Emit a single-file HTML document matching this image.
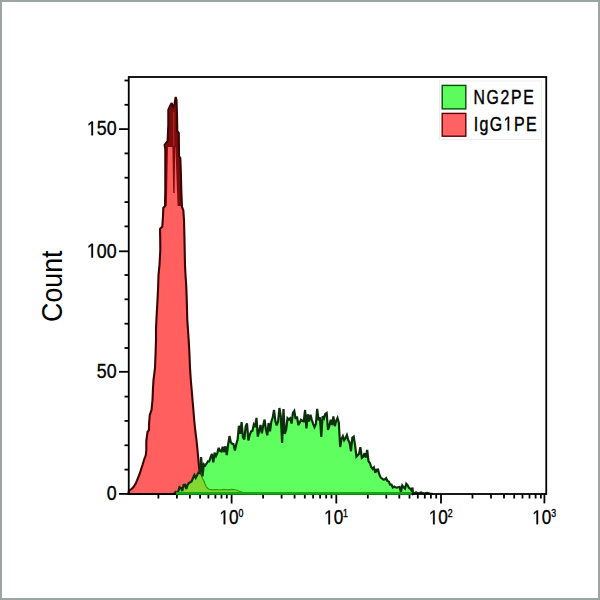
<!DOCTYPE html>
<html><head><meta charset="utf-8"><style>
html,body{margin:0;padding:0;background:#fff;}
.frame{position:absolute;left:0;top:0;width:600px;height:600px;box-sizing:border-box;border:2px solid #9ba6a2;background:#fff;}
svg{position:absolute;left:0;top:0;}
text{font-family:"Liberation Sans",sans-serif;fill:#000;stroke:#000;stroke-width:0.35;}
</style></head><body>
<div class="frame"></div>
<svg width="600" height="600" viewBox="0 0 600 600">
<defs>
<clipPath id="gclip"><polygon points="174.0,494.0 175.5,492.0 176.8,492.4 178.2,491.6 179.5,487.1 180.9,487.9 182.2,490.9 183.6,484.9 184.9,484.7 186.3,488.8 187.6,484.8 189.0,482.8 190.3,482.2 191.7,481.3 193.0,478.0 194.4,475.1 195.7,477.8 197.1,475.2 198.4,472.6 199.8,473.2 201.1,457.0 202.5,476.3 203.8,464.3 205.2,465.6 206.5,463.7 207.9,461.3 209.2,461.4 210.6,457.3 211.9,454.0 213.3,462.3 214.6,452.7 216.0,456.0 217.3,453.1 218.7,447.8 220.0,451.0 221.4,451.6 222.7,446.9 224.1,452.1 225.4,446.3 226.8,455.0 228.1,444.5 229.5,436.1 230.8,442.3 232.2,443.7 233.5,444.1 234.9,450.5 236.2,444.5 237.6,439.5 238.9,425.8 240.3,433.8 241.6,422.0 243.0,437.4 244.3,439.5 245.7,426.4 247.0,423.4 248.4,440.4 249.7,435.0 251.1,431.3 252.4,430.9 253.8,424.6 255.1,427.0 256.5,417.8 257.8,436.6 259.2,430.8 260.5,425.0 261.9,433.2 263.2,425.4 264.6,419.6 265.9,429.6 267.3,435.3 268.6,423.0 270.0,431.3 271.3,421.7 272.7,417.6 274.0,409.9 275.4,421.2 276.7,425.4 278.1,421.5 279.4,408.0 280.8,416.1 282.1,443.0 283.5,409.0 284.8,433.9 286.2,429.6 287.5,418.2 288.9,419.6 290.2,418.3 291.6,423.5 292.9,413.0 294.3,410.9 295.6,419.0 297.0,416.5 298.3,425.1 299.7,422.6 301.0,419.8 302.4,421.1 303.7,421.4 305.1,410.0 306.4,428.3 307.8,414.3 309.1,421.6 310.5,414.7 311.8,419.8 313.2,424.1 314.5,427.2 315.9,423.8 317.2,408.9 318.6,420.3 319.9,417.3 321.3,437.0 322.6,416.2 324.0,418.4 325.3,414.0 326.7,413.0 328.0,429.8 329.4,426.0 330.7,419.8 332.1,425.0 333.4,416.5 334.8,426.2 336.1,421.1 337.5,418.0 338.8,422.8 340.2,447.0 341.5,439.1 342.9,436.2 344.2,440.2 345.6,438.0 346.9,435.1 348.3,440.3 349.6,442.7 351.0,451.2 352.3,437.9 353.7,436.7 355.0,444.6 356.4,456.6 357.7,455.2 359.1,453.8 360.4,447.1 361.8,457.9 363.1,456.8 364.5,453.2 365.8,457.5 367.2,450.0 368.5,461.2 369.9,463.0 371.2,467.0 372.6,468.9 373.9,467.3 375.3,472.7 376.6,469.7 378.0,469.5 379.3,474.5 380.7,477.5 382.0,478.5 383.4,479.7 384.7,479.5 386.1,478.2 387.4,481.0 388.8,481.5 390.1,484.7 391.5,484.6 392.8,487.6 394.2,486.5 395.5,487.2 396.9,487.6 398.2,487.2 399.6,486.9 400.9,492.0 402.3,485.4 403.6,487.3 405.0,488.6 406.3,483.7 407.7,485.3 409.0,487.9 410.4,488.8 411.7,490.6 412.5,487.5 413.0,494.0"/></clipPath>
<clipPath id="rclip"><polygon points="128.5,494.0 128.8,491.0 130.0,490.0 131.5,489.0 133.5,487.0 136.0,483.0 138.0,478.0 140.0,473.0 141.5,468.0 142.5,465.0 144.0,460.0 145.8,455.0 146.3,450.0 146.3,441.0 147.5,432.0 149.0,430.0 149.0,424.0 149.8,415.0 151.5,410.0 152.5,400.0 153.0,388.0 153.5,380.0 155.0,368.0 155.5,355.0 156.0,340.0 156.0,328.0 156.5,318.0 157.5,300.0 158.0,290.0 158.5,275.0 159.5,265.0 160.3,250.0 160.2,238.0 160.0,229.0 162.3,226.5 163.0,216.0 163.3,208.0 165.0,206.0 165.3,190.0 165.3,170.0 165.3,150.0 165.0,147.0 164.6,145.0 167.6,141.0 168.3,125.0 168.3,110.0 170.0,106.0 171.7,103.0 173.0,108.0 174.5,104.0 175.7,97.0 176.5,100.0 177.0,115.0 177.3,131.0 178.8,133.0 179.0,156.0 180.3,158.0 180.8,170.0 181.3,190.0 181.7,200.0 182.0,207.0 183.3,210.0 184.0,220.0 184.5,240.0 185.0,265.0 185.5,275.0 186.2,285.0 186.7,298.0 187.3,320.0 188.7,340.0 189.5,355.0 190.0,368.0 190.8,380.0 191.7,390.0 192.5,400.0 193.4,410.0 194.2,420.0 195.2,430.0 196.5,440.0 197.5,450.0 198.4,460.0 199.3,470.0 200.5,474.0 201.5,476.0 202.7,478.7 204.0,481.0 205.0,484.0 206.2,486.5 207.3,488.0 209.0,489.3 212.0,489.8 216.0,489.5 220.0,490.0 224.0,489.3 228.0,489.8 232.0,489.3 236.0,490.0 240.0,491.5 244.0,493.0 246.0,494.0"/></clipPath>
</defs>
<polygon points="128.5,494.0 128.8,491.0 130.0,490.0 131.5,489.0 133.5,487.0 136.0,483.0 138.0,478.0 140.0,473.0 141.5,468.0 142.5,465.0 144.0,460.0 145.8,455.0 146.3,450.0 146.3,441.0 147.5,432.0 149.0,430.0 149.0,424.0 149.8,415.0 151.5,410.0 152.5,400.0 153.0,388.0 153.5,380.0 155.0,368.0 155.5,355.0 156.0,340.0 156.0,328.0 156.5,318.0 157.5,300.0 158.0,290.0 158.5,275.0 159.5,265.0 160.3,250.0 160.2,238.0 160.0,229.0 162.3,226.5 163.0,216.0 163.3,208.0 165.0,206.0 165.3,190.0 165.3,170.0 165.3,150.0 165.0,147.0 164.6,145.0 167.6,141.0 168.3,125.0 168.3,110.0 170.0,106.0 171.7,103.0 173.0,108.0 174.5,104.0 175.7,97.0 176.5,100.0 177.0,115.0 177.3,131.0 178.8,133.0 179.0,156.0 180.3,158.0 180.8,170.0 181.3,190.0 181.7,200.0 182.0,207.0 183.3,210.0 184.0,220.0 184.5,240.0 185.0,265.0 185.5,275.0 186.2,285.0 186.7,298.0 187.3,320.0 188.7,340.0 189.5,355.0 190.0,368.0 190.8,380.0 191.7,390.0 192.5,400.0 193.4,410.0 194.2,420.0 195.2,430.0 196.5,440.0 197.5,450.0 198.4,460.0 199.3,470.0 200.5,474.0 201.5,476.0 202.7,478.7 204.0,481.0 205.0,484.0 206.2,486.5 207.3,488.0 209.0,489.3 212.0,489.8 216.0,489.5 220.0,490.0 224.0,489.3 228.0,489.8 232.0,489.3 236.0,490.0 240.0,491.5 244.0,493.0 246.0,494.0" fill="#ff5f5f"/>
<g clip-path="url(#rclip)" fill="#7c0c0c">
<polygon points="166,147 168.3,112 172.2,102 173.5,108 176,96 178,104 178.5,130 179.5,147"/>
<rect x="173.2" y="112" width="1.1" height="34" fill="#b82a2a"/>
<polygon points="172.4,146 175.2,146 174.6,193 173.2,193"/>
<polygon points="175.4,147 181,147 182.2,206 177.6,206"/>
<polygon points="164.6,146 168,146 166.8,206 163.6,206"/>
</g>
<polygon points="128.5,494.0 128.8,491.0 130.0,490.0 131.5,489.0 133.5,487.0 136.0,483.0 138.0,478.0 140.0,473.0 141.5,468.0 142.5,465.0 144.0,460.0 145.8,455.0 146.3,450.0 146.3,441.0 147.5,432.0 149.0,430.0 149.0,424.0 149.8,415.0 151.5,410.0 152.5,400.0 153.0,388.0 153.5,380.0 155.0,368.0 155.5,355.0 156.0,340.0 156.0,328.0 156.5,318.0 157.5,300.0 158.0,290.0 158.5,275.0 159.5,265.0 160.3,250.0 160.2,238.0 160.0,229.0 162.3,226.5 163.0,216.0 163.3,208.0 165.0,206.0 165.3,190.0 165.3,170.0 165.3,150.0 165.0,147.0 164.6,145.0 167.6,141.0 168.3,125.0 168.3,110.0 170.0,106.0 171.7,103.0 173.0,108.0 174.5,104.0 175.7,97.0 176.5,100.0 177.0,115.0 177.3,131.0 178.8,133.0 179.0,156.0 180.3,158.0 180.8,170.0 181.3,190.0 181.7,200.0 182.0,207.0 183.3,210.0 184.0,220.0 184.5,240.0 185.0,265.0 185.5,275.0 186.2,285.0 186.7,298.0 187.3,320.0 188.7,340.0 189.5,355.0 190.0,368.0 190.8,380.0 191.7,390.0 192.5,400.0 193.4,410.0 194.2,420.0 195.2,430.0 196.5,440.0 197.5,450.0 198.4,460.0 199.3,470.0 200.5,474.0 201.5,476.0 202.7,478.7 204.0,481.0 205.0,484.0 206.2,486.5 207.3,488.0 209.0,489.3 212.0,489.8 216.0,489.5 220.0,490.0 224.0,489.3 228.0,489.8 232.0,489.3 236.0,490.0 240.0,491.5 244.0,493.0 246.0,494.0" fill="none" stroke="#3c0505" stroke-width="2.1" stroke-linejoin="miter" stroke-miterlimit="2.2"/>
<polygon points="174.0,494.0 175.5,492.0 176.8,492.4 178.2,491.6 179.5,487.1 180.9,487.9 182.2,490.9 183.6,484.9 184.9,484.7 186.3,488.8 187.6,484.8 189.0,482.8 190.3,482.2 191.7,481.3 193.0,478.0 194.4,475.1 195.7,477.8 197.1,475.2 198.4,472.6 199.8,473.2 201.1,457.0 202.5,476.3 203.8,464.3 205.2,465.6 206.5,463.7 207.9,461.3 209.2,461.4 210.6,457.3 211.9,454.0 213.3,462.3 214.6,452.7 216.0,456.0 217.3,453.1 218.7,447.8 220.0,451.0 221.4,451.6 222.7,446.9 224.1,452.1 225.4,446.3 226.8,455.0 228.1,444.5 229.5,436.1 230.8,442.3 232.2,443.7 233.5,444.1 234.9,450.5 236.2,444.5 237.6,439.5 238.9,425.8 240.3,433.8 241.6,422.0 243.0,437.4 244.3,439.5 245.7,426.4 247.0,423.4 248.4,440.4 249.7,435.0 251.1,431.3 252.4,430.9 253.8,424.6 255.1,427.0 256.5,417.8 257.8,436.6 259.2,430.8 260.5,425.0 261.9,433.2 263.2,425.4 264.6,419.6 265.9,429.6 267.3,435.3 268.6,423.0 270.0,431.3 271.3,421.7 272.7,417.6 274.0,409.9 275.4,421.2 276.7,425.4 278.1,421.5 279.4,408.0 280.8,416.1 282.1,443.0 283.5,409.0 284.8,433.9 286.2,429.6 287.5,418.2 288.9,419.6 290.2,418.3 291.6,423.5 292.9,413.0 294.3,410.9 295.6,419.0 297.0,416.5 298.3,425.1 299.7,422.6 301.0,419.8 302.4,421.1 303.7,421.4 305.1,410.0 306.4,428.3 307.8,414.3 309.1,421.6 310.5,414.7 311.8,419.8 313.2,424.1 314.5,427.2 315.9,423.8 317.2,408.9 318.6,420.3 319.9,417.3 321.3,437.0 322.6,416.2 324.0,418.4 325.3,414.0 326.7,413.0 328.0,429.8 329.4,426.0 330.7,419.8 332.1,425.0 333.4,416.5 334.8,426.2 336.1,421.1 337.5,418.0 338.8,422.8 340.2,447.0 341.5,439.1 342.9,436.2 344.2,440.2 345.6,438.0 346.9,435.1 348.3,440.3 349.6,442.7 351.0,451.2 352.3,437.9 353.7,436.7 355.0,444.6 356.4,456.6 357.7,455.2 359.1,453.8 360.4,447.1 361.8,457.9 363.1,456.8 364.5,453.2 365.8,457.5 367.2,450.0 368.5,461.2 369.9,463.0 371.2,467.0 372.6,468.9 373.9,467.3 375.3,472.7 376.6,469.7 378.0,469.5 379.3,474.5 380.7,477.5 382.0,478.5 383.4,479.7 384.7,479.5 386.1,478.2 387.4,481.0 388.8,481.5 390.1,484.7 391.5,484.6 392.8,487.6 394.2,486.5 395.5,487.2 396.9,487.6 398.2,487.2 399.6,486.9 400.9,492.0 402.3,485.4 403.6,487.3 405.0,488.6 406.3,483.7 407.7,485.3 409.0,487.9 410.4,488.8 411.7,490.6 412.5,487.5 413.0,494.0" fill="#60ff60"/>
<polygon points="128.5,494.0 128.8,491.0 130.0,490.0 131.5,489.0 133.5,487.0 136.0,483.0 138.0,478.0 140.0,473.0 141.5,468.0 142.5,465.0 144.0,460.0 145.8,455.0 146.3,450.0 146.3,441.0 147.5,432.0 149.0,430.0 149.0,424.0 149.8,415.0 151.5,410.0 152.5,400.0 153.0,388.0 153.5,380.0 155.0,368.0 155.5,355.0 156.0,340.0 156.0,328.0 156.5,318.0 157.5,300.0 158.0,290.0 158.5,275.0 159.5,265.0 160.3,250.0 160.2,238.0 160.0,229.0 162.3,226.5 163.0,216.0 163.3,208.0 165.0,206.0 165.3,190.0 165.3,170.0 165.3,150.0 165.0,147.0 164.6,145.0 167.6,141.0 168.3,125.0 168.3,110.0 170.0,106.0 171.7,103.0 173.0,108.0 174.5,104.0 175.7,97.0 176.5,100.0 177.0,115.0 177.3,131.0 178.8,133.0 179.0,156.0 180.3,158.0 180.8,170.0 181.3,190.0 181.7,200.0 182.0,207.0 183.3,210.0 184.0,220.0 184.5,240.0 185.0,265.0 185.5,275.0 186.2,285.0 186.7,298.0 187.3,320.0 188.7,340.0 189.5,355.0 190.0,368.0 190.8,380.0 191.7,390.0 192.5,400.0 193.4,410.0 194.2,420.0 195.2,430.0 196.5,440.0 197.5,450.0 198.4,460.0 199.3,470.0 200.5,474.0 201.5,476.0 202.7,478.7 204.0,481.0 205.0,484.0 206.2,486.5 207.3,488.0 209.0,489.3 212.0,489.8 216.0,489.5 220.0,490.0 224.0,489.3 228.0,489.8 232.0,489.3 236.0,490.0 240.0,491.5 244.0,493.0 246.0,494.0" fill="#80d830" stroke="#2a9a10" stroke-width="1.2" clip-path="url(#gclip)"/>
<polyline points="174.0,494.0 175.5,492.0 176.8,492.4 178.2,491.6 179.5,487.1 180.9,487.9 182.2,490.9 183.6,484.9 184.9,484.7 186.3,488.8 187.6,484.8 189.0,482.8 190.3,482.2 191.7,481.3 193.0,478.0 194.4,475.1 195.7,477.8 197.1,475.2 198.4,472.6 199.8,473.2 201.1,457.0 202.5,476.3 203.8,464.3 205.2,465.6 206.5,463.7 207.9,461.3 209.2,461.4 210.6,457.3 211.9,454.0 213.3,462.3 214.6,452.7 216.0,456.0 217.3,453.1 218.7,447.8 220.0,451.0 221.4,451.6 222.7,446.9 224.1,452.1 225.4,446.3 226.8,455.0 228.1,444.5 229.5,436.1 230.8,442.3 232.2,443.7 233.5,444.1 234.9,450.5 236.2,444.5 237.6,439.5 238.9,425.8 240.3,433.8 241.6,422.0 243.0,437.4 244.3,439.5 245.7,426.4 247.0,423.4 248.4,440.4 249.7,435.0 251.1,431.3 252.4,430.9 253.8,424.6 255.1,427.0 256.5,417.8 257.8,436.6 259.2,430.8 260.5,425.0 261.9,433.2 263.2,425.4 264.6,419.6 265.9,429.6 267.3,435.3 268.6,423.0 270.0,431.3 271.3,421.7 272.7,417.6 274.0,409.9 275.4,421.2 276.7,425.4 278.1,421.5 279.4,408.0 280.8,416.1 282.1,443.0 283.5,409.0 284.8,433.9 286.2,429.6 287.5,418.2 288.9,419.6 290.2,418.3 291.6,423.5 292.9,413.0 294.3,410.9 295.6,419.0 297.0,416.5 298.3,425.1 299.7,422.6 301.0,419.8 302.4,421.1 303.7,421.4 305.1,410.0 306.4,428.3 307.8,414.3 309.1,421.6 310.5,414.7 311.8,419.8 313.2,424.1 314.5,427.2 315.9,423.8 317.2,408.9 318.6,420.3 319.9,417.3 321.3,437.0 322.6,416.2 324.0,418.4 325.3,414.0 326.7,413.0 328.0,429.8 329.4,426.0 330.7,419.8 332.1,425.0 333.4,416.5 334.8,426.2 336.1,421.1 337.5,418.0 338.8,422.8 340.2,447.0 341.5,439.1 342.9,436.2 344.2,440.2 345.6,438.0 346.9,435.1 348.3,440.3 349.6,442.7 351.0,451.2 352.3,437.9 353.7,436.7 355.0,444.6 356.4,456.6 357.7,455.2 359.1,453.8 360.4,447.1 361.8,457.9 363.1,456.8 364.5,453.2 365.8,457.5 367.2,450.0 368.5,461.2 369.9,463.0 371.2,467.0 372.6,468.9 373.9,467.3 375.3,472.7 376.6,469.7 378.0,469.5 379.3,474.5 380.7,477.5 382.0,478.5 383.4,479.7 384.7,479.5 386.1,478.2 387.4,481.0 388.8,481.5 390.1,484.7 391.5,484.6 392.8,487.6 394.2,486.5 395.5,487.2 396.9,487.6 398.2,487.2 399.6,486.9 400.9,492.0 402.3,485.4 403.6,487.3 405.0,488.6 406.3,483.7 407.7,485.3 409.0,487.9 410.4,488.8 411.7,490.6 412.5,487.5 413.0,494.0 416.0,492.3 418.0,493.5 421.0,492.5 424.0,493.6 427.0,492.8 430.0,493.6 433.0,494.0" fill="none" stroke="#0c300c" stroke-width="2.2" stroke-linejoin="miter" stroke-miterlimit="3"/>
<g stroke="#000" stroke-width="1.8" fill="none">
<rect x="128.75" y="77.0" width="417.5" height="417.0"/>
<line x1="119" y1="493.9" x2="128.75" y2="493.9"/><line x1="124.5" y1="469.6" x2="128.75" y2="469.6"/><line x1="124.5" y1="445.3" x2="128.75" y2="445.3"/><line x1="124.5" y1="420.9" x2="128.75" y2="420.9"/><line x1="124.5" y1="396.6" x2="128.75" y2="396.6"/><line x1="119" y1="371.8" x2="128.75" y2="371.8"/><line x1="124.5" y1="348.0" x2="128.75" y2="348.0"/><line x1="124.5" y1="323.7" x2="128.75" y2="323.7"/><line x1="124.5" y1="299.3" x2="128.75" y2="299.3"/><line x1="124.5" y1="275.0" x2="128.75" y2="275.0"/><line x1="119" y1="251.3" x2="128.75" y2="251.3"/><line x1="124.5" y1="226.4" x2="128.75" y2="226.4"/><line x1="124.5" y1="202.1" x2="128.75" y2="202.1"/><line x1="124.5" y1="177.7" x2="128.75" y2="177.7"/><line x1="124.5" y1="153.4" x2="128.75" y2="153.4"/><line x1="119" y1="129.1" x2="128.75" y2="129.1"/><line x1="124.5" y1="104.8" x2="128.75" y2="104.8"/><line x1="124.5" y1="80.5" x2="128.75" y2="80.5"/><line x1="158.4" y1="494.0" x2="158.4" y2="498.5"/><line x1="176.9" y1="494.0" x2="176.9" y2="498.5"/><line x1="189.9" y1="494.0" x2="189.9" y2="498.5"/><line x1="200.1" y1="494.0" x2="200.1" y2="498.5"/><line x1="208.4" y1="494.0" x2="208.4" y2="498.5"/><line x1="215.4" y1="494.0" x2="215.4" y2="498.5"/><line x1="221.5" y1="494.0" x2="221.5" y2="498.5"/><line x1="226.8" y1="494.0" x2="226.8" y2="498.5"/><line x1="231.6" y1="494.0" x2="231.6" y2="503.5"/><line x1="263.1" y1="494.0" x2="263.1" y2="498.5"/><line x1="281.6" y1="494.0" x2="281.6" y2="498.5"/><line x1="294.6" y1="494.0" x2="294.6" y2="498.5"/><line x1="304.8" y1="494.0" x2="304.8" y2="498.5"/><line x1="313.1" y1="494.0" x2="313.1" y2="498.5"/><line x1="320.1" y1="494.0" x2="320.1" y2="498.5"/><line x1="326.2" y1="494.0" x2="326.2" y2="498.5"/><line x1="331.5" y1="494.0" x2="331.5" y2="498.5"/><line x1="336.3" y1="494.0" x2="336.3" y2="503.5"/><line x1="367.8" y1="494.0" x2="367.8" y2="498.5"/><line x1="386.3" y1="494.0" x2="386.3" y2="498.5"/><line x1="399.3" y1="494.0" x2="399.3" y2="498.5"/><line x1="409.5" y1="494.0" x2="409.5" y2="498.5"/><line x1="417.8" y1="494.0" x2="417.8" y2="498.5"/><line x1="424.8" y1="494.0" x2="424.8" y2="498.5"/><line x1="430.9" y1="494.0" x2="430.9" y2="498.5"/><line x1="436.2" y1="494.0" x2="436.2" y2="498.5"/><line x1="441.0" y1="494.0" x2="441.0" y2="503.5"/><line x1="472.5" y1="494.0" x2="472.5" y2="498.5"/><line x1="491.0" y1="494.0" x2="491.0" y2="498.5"/><line x1="504.0" y1="494.0" x2="504.0" y2="498.5"/><line x1="514.2" y1="494.0" x2="514.2" y2="498.5"/><line x1="522.5" y1="494.0" x2="522.5" y2="498.5"/><line x1="529.5" y1="494.0" x2="529.5" y2="498.5"/><line x1="535.6" y1="494.0" x2="535.6" y2="498.5"/><line x1="540.9" y1="494.0" x2="540.9" y2="498.5"/><line x1="544.4" y1="494.0" x2="544.4" y2="503.4"/>
</g>
<line x1="176" y1="493.4" x2="411.5" y2="493.4" stroke="#14a814" stroke-width="2.6"/>
<g transform="translate(116.6,135.3) scale(0.89,1)"><text font-size="20" text-anchor="end">50</text><path transform="translate(-33.369,0) scale(0.009766,-0.009766)" d="M515,0 L515,1237 L197,1010 L197,1180 L530,1409 L696,1409 L696,0 Z" fill="#000" stroke="#000" stroke-width="35.8"/></g><g transform="translate(116.6,257.5) scale(0.89,1)"><text font-size="20" text-anchor="end">00</text><path transform="translate(-33.369,0) scale(0.009766,-0.009766)" d="M515,0 L515,1237 L197,1010 L197,1180 L530,1409 L696,1409 L696,0 Z" fill="#000" stroke="#000" stroke-width="35.8"/></g><text transform="translate(116.6,377.6) scale(0.89,1)" font-size="20" text-anchor="end" >50</text><text transform="translate(116.6,500.1) scale(0.89,1)" font-size="20" text-anchor="end" >0</text>
<g transform="translate(219.4,524.2) scale(0.86,1)"><path transform="translate(0.000,0) scale(0.009766,-0.009766)" d="M515,0 L515,1237 L197,1010 L197,1180 L530,1409 L696,1409 L696,0 Z" fill="#000" stroke="#000" stroke-width="35.8"/><text x="11.123" font-size="20">0</text></g><text transform="translate(238.4,516.5) scale(0.8,1)" font-size="11" text-anchor="start" >0</text><g transform="translate(324.1,524.2) scale(0.86,1)"><path transform="translate(0.000,0) scale(0.009766,-0.009766)" d="M515,0 L515,1237 L197,1010 L197,1180 L530,1409 L696,1409 L696,0 Z" fill="#000" stroke="#000" stroke-width="35.8"/><text x="11.123" font-size="20">0</text></g><text transform="translate(343.1,516.5) scale(0.8,1)" font-size="11" text-anchor="start" >1</text><g transform="translate(428.8,524.2) scale(0.86,1)"><path transform="translate(0.000,0) scale(0.009766,-0.009766)" d="M515,0 L515,1237 L197,1010 L197,1180 L530,1409 L696,1409 L696,0 Z" fill="#000" stroke="#000" stroke-width="35.8"/><text x="11.123" font-size="20">0</text></g><text transform="translate(447.8,516.5) scale(0.8,1)" font-size="11" text-anchor="start" >2</text><g transform="translate(532.2,524.2) scale(0.86,1)"><path transform="translate(0.000,0) scale(0.009766,-0.009766)" d="M515,0 L515,1237 L197,1010 L197,1180 L530,1409 L696,1409 L696,0 Z" fill="#000" stroke="#000" stroke-width="35.8"/><text x="11.123" font-size="20">0</text></g><text transform="translate(551.2,516.5) scale(0.8,1)" font-size="11" text-anchor="start" >3</text>
<text transform="translate(62.3,286.2) rotate(-90) scale(0.93,1)" font-size="28.8" text-anchor="middle" style="stroke:none">Count</text>
<rect x="439.5" y="81" width="102" height="58.5" fill="none" stroke="#eeeeee" stroke-width="1"/>
<rect x="442.2" y="85.4" width="23.6" height="23.5" fill="#5cfc5c" stroke="#0a4a0a" stroke-width="1.4"/>
<rect x="442.2" y="113.4" width="23.6" height="22.8" fill="#ff6262" stroke="#600000" stroke-width="1.4"/>
<text transform="translate(473.4,103.9) scale(0.79,1)" font-size="20" text-anchor="start" letter-spacing="2.2" style="stroke-width:0.45">NG2PE</text>
<g transform="translate(473.8,130.6) scale(0.8,1)"><text font-size="20" letter-spacing="1.7" style="stroke-width:0.45">IgG</text><path transform="translate(37.336,0) scale(0.009766,-0.009766)" d="M515,0 L515,1237 L197,1010 L197,1180 L530,1409 L696,1409 L696,0 Z" fill="#000" stroke="#000" stroke-width="35.8"/><text x="50.159" font-size="20" letter-spacing="1.7" style="stroke-width:0.45">PE</text></g>
</svg>
</body></html>
